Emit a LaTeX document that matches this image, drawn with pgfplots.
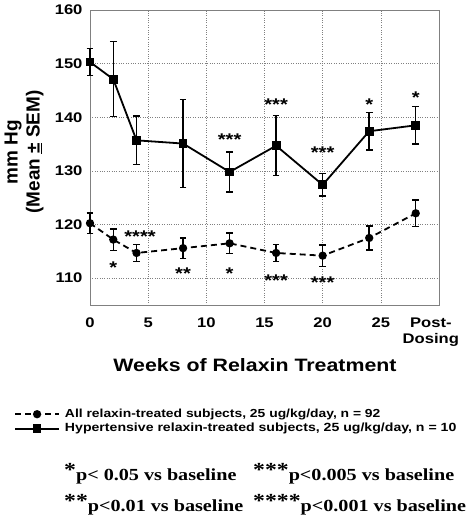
\documentclass[border=0pt]{standalone}
\usepackage{fontspec}
\setmainfont[FakeStretch=1.19]{Liberation Sans}
\newfontfamily\plainsans{Liberation Sans}
\newfontfamily\timesfont[FakeStretch=1.19]{Liberation Serif}
\usepackage{pgfplots}
\pgfplotsset{compat=1.18}
\usepackage{pgfplotstable}

\pgfplotstableread{
x y e
0 120.25 1.9
2 117.2 2.0
4 114.7 1.6
8 115.6 1.9
12 116.5 1.9
16 114.7 1.6
20 114.2 2.0
24 117.5 2.2
28 122.1 2.5
}\allsubj

\pgfplotstableread{
x y e
0 150.3 2.5
2 147.1 7.0
4 135.7 4.5
8 135.1 8.2
12 129.8 3.7
16 134.7 5.6
20 127.4 2.1
24 137.4 3.5
28 138.5 3.5
}\hyper

\tikzset{sigstar/.style={font=\fontsize{17}{17}\selectfont\bfseries, anchor=base, yshift=-10bp}}

\begin{document}
\begin{tikzpicture}
\path[use as bounding box] (0,0) rectangle (466bp,518bp);
\begin{axis}[
  at={(90bp,213bp)}, anchor=south west,
  scale only axis, width=349bp, height=295bp,
  xmin=0, xmax=30, ymin=105, ymax=160,
  xtick={0,5,10,15,20,25}, ytick={110,120,...,160},
  extra x ticks={29.3}, extra x tick labels={Post-\\Dosing},
  extra x tick style={grid=none, xticklabel style={align=center}},
  grid=major, grid style={dotted, gray, line width=0.6bp},
  major tick length=0pt,
  axis line style={gray, line width=0.8bp},
  tick label style={font=\fontsize{14}{16}\selectfont\bfseries},
  xticklabel style={yshift=-9bp},
  yticklabel style={xshift=-4bp},
  /pgf/number format/assume math mode=true,
  legend style={at={(0,0)}, anchor=north west, xshift=-76bp, yshift=-103bp,
    draw=none, fill=none, inner sep=0pt, row sep=2.5bp, column sep=5bp,
    font=\bfseries, nodes={inner sep=0pt, text height=9bp, text depth=3bp}},
  legend cell align=left,
  legend image code/.code={\draw[mark repeat=2,mark phase=2,#1] plot coordinates {(0bp,0bp) (22bp,0bp) (44bp,0bp)};},
  clip=false,
]
\addplot[black, line width=1.8bp, dash pattern=on 6bp off 4bp, mark=*, mark size=3.2bp,
  mark options={solid},
  error bars/.cd, y dir=both, y explicit,
  error bar style={solid, line width=1.5bp},
  error mark options={rotate=90, mark size=3.3bp, line width=1.5bp}]
  table[x=x, y=y, y error=e] {\allsubj};
\addlegendentry{\fontsize{11.7}{13}\selectfont All relaxin-treated subjects, 25 ug/kg/day, n = 92}
\addplot[black, line width=1.8bp, mark=square*, mark size=3.5bp,
  error bars/.cd, y dir=both, y explicit,
  error bar style={line width=1.5bp},
  error mark options={rotate=90, mark size=3.3bp, line width=1.5bp}]
  table[x=x, y=y, y error=e] {\hyper};
\addlegendentry{\fontsize{11.9}{13}\selectfont Hypertensive relaxin-treated subjects, 25 ug/kg/day, n = 10}

\node[sigstar] at (axis cs:12,136.6) {***};
\node[sigstar] at (axis cs:16,143.2) {***};
\node[sigstar] at (axis cs:20,134.1) {***};
\node[sigstar] at (axis cs:24,143.2) {*};
\node[sigstar] at (axis cs:28,144.5) {*};
\node[sigstar] at (axis cs:2,112.7) {*};
\node[sigstar] at (axis cs:4.3,118.6) {****};
\node[sigstar] at (axis cs:8,111.6) {**};
\node[sigstar] at (axis cs:12,111.6) {*};
\node[sigstar] at (axis cs:16,110.4) {***};
\node[sigstar] at (axis cs:20,110.0) {***};
\end{axis}

\node[rotate=90, align=center, font=\plainsans\fontsize{19}{22}\selectfont\bfseries] at (24bp,366bp) {mm Hg\\(Mean \underline{±} SEM)};
\node[font=\fontsize{18}{20}\selectfont\bfseries] at (255bp,153bp) {Weeks of Relaxin Treatment};

\begin{scope}[every node/.style={anchor=base west, inner sep=0pt, font=\timesfont\fontsize{17}{18}\selectfont\bfseries}]
\node at (64bp,38bp) {\raisebox{4bp}{\fontsize{20}{20}\selectfont *}p< 0.05 vs baseline};
\node at (64bp,7bp) {\raisebox{4bp}{\fontsize{20}{20}\selectfont **}p<0.01 vs baseline};
\node at (253bp,38bp) {\raisebox{4bp}{\fontsize{20}{20}\selectfont ***}p<0.005 vs baseline};
\node at (253bp,7bp) {\raisebox{4bp}{\fontsize{20}{20}\selectfont ****}p<0.001 vs baseline};
\end{scope}
\end{tikzpicture}
\end{document}
